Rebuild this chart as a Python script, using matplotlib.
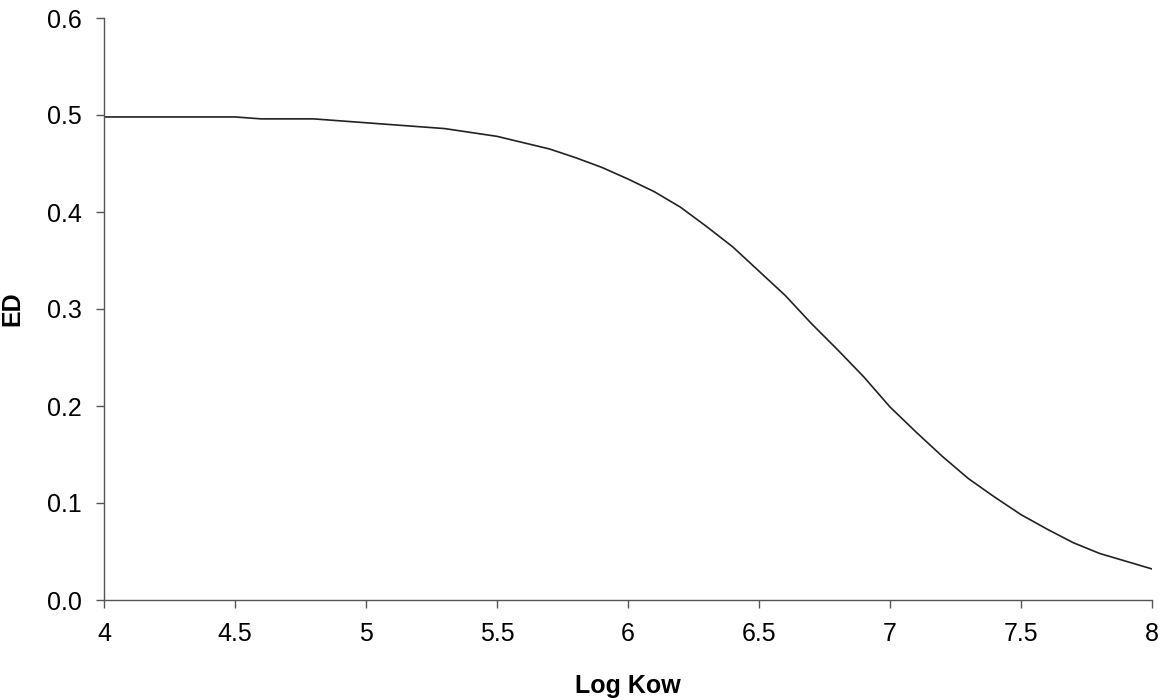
import matplotlib
matplotlib.use("Agg")
import matplotlib.pyplot as plt

log_kow = [4.0, 4.5, 4.6, 4.8, 5.0, 5.3, 5.5, 5.7, 5.8, 5.9, 6.0, 6.1, 6.2, 6.3,
           6.4, 6.5, 6.6, 6.7, 6.8, 6.9, 7.0, 7.1, 7.2, 7.3, 7.4, 7.5, 7.6, 7.7,
           7.8, 7.9, 8.0]
ed = [0.498, 0.498, 0.496, 0.496, 0.492, 0.486, 0.478, 0.465, 0.456, 0.446,
      0.434, 0.421, 0.405, 0.385, 0.364, 0.339, 0.314, 0.285, 0.258, 0.230,
      0.199, 0.173, 0.148, 0.125, 0.106, 0.088, 0.073, 0.059, 0.048, 0.040,
      0.032]

x_ticks = [4, 4.5, 5, 5.5, 6, 6.5, 7, 7.5, 8]
x_tick_labels = ["4", "4.5", "5", "5.5", "6", "6.5", "7", "7.5", "8"]
y_ticks = [0.0, 0.1, 0.2, 0.3, 0.4, 0.5, 0.6]
y_tick_labels = ["0.0", "0.1", "0.2", "0.3", "0.4", "0.5", "0.6"]

plt.rcParams['font.family'] = ['Liberation Sans', 'DejaVu Sans']

fig = plt.figure(figsize=(11.67, 7.0), dpi=100)
ax = fig.add_axes([104/1167, 1 - 600/700, (1152 - 104)/1167, (600 - 18)/700])

ax.plot(log_kow, ed, color="#222222", linewidth=1.2)

ax.set_xlim(4, 8)
ax.set_ylim(0, 0.6)
ax.set_xticks(x_ticks)
ax.set_xticklabels(x_tick_labels)
ax.set_yticks(y_ticks)
ax.set_yticklabels(y_tick_labels)

for s in ["top", "right"]:
    ax.spines[s].set_visible(False)
for s in ["left", "bottom"]:
    ax.spines[s].set_color("#555555")
    ax.spines[s].set_linewidth(1.0)

ax.tick_params(axis="both", direction="out", length=6, width=1.0,
               color="#555555", labelsize=18, pad=10)

ax.set_xlabel("Log Kow", fontsize=18, fontweight="bold", labelpad=20)
ax.set_ylabel("ED", fontsize=18, fontweight="bold", labelpad=16)

fig.savefig("out.png", dpi=100, facecolor="white")
